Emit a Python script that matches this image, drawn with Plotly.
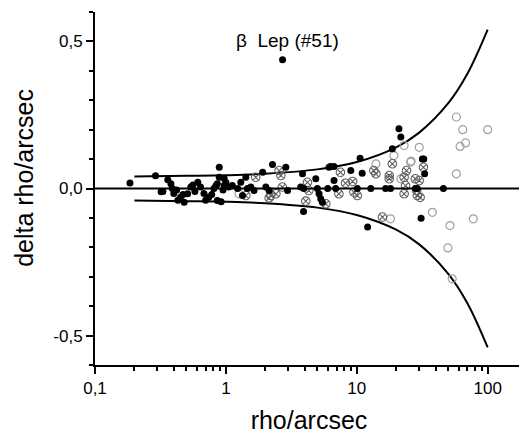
import math
import plotly.graph_objects as go

# filled (black) points
filled_rho = [0.185, 0.29, 0.32, 0.33, 0.36, 0.38, 0.39, 0.40, 0.42, 0.43, 0.45, 0.47, 0.48, 0.51, 0.54, 0.56,
              0.58, 0.61, 0.64, 0.68, 0.70, 0.74, 0.78, 0.81, 0.84, 0.86, 0.89, 0.89, 0.86, 0.92, 0.95,
              0.97, 1.0, 1.05, 0.97, 1.12, 1.23, 1.30, 1.34, 1.42, 1.46, 1.55, 1.64, 1.91, 2.02, 2.14,
              2.27, 2.87, 2.96, 3.85, 3.73, 3.94, 4.86, 5.0, 5.15, 5.3, 5.46, 3.92, 6.14, 6.3, 6.7,
              6.7, 6.9, 6.0, 9.0, 10.6, 11.0, 10.1, 12.8, 16.6, 18.1, 18.7, 21.0, 21.7, 12.1, 29,
              28, 31.7, 32.5, 33, 45.9, 31]
filled_delta = [0.019, 0.043, -0.011, -0.01, 0.03, 0.016, 0.0, -0.017, -0.005, -0.04, -0.03, -0.02, -0.047,
                -0.018, 0.005, 0.012, -0.01, 0.021, 0.005, -0.017, -0.04, -0.03, -0.02, 0.0, 0.01, 0.016,
                0.072, 0.038, -0.041, -0.045, -0.005, 0.01, 0.02, 0.005, 0.034, 0.01, 0.0, 0.021, -0.024,
                0.038, 0.0, 0.005, -0.007, 0.055, 0.005, -0.007, 0.082, 0.072, -0.007, 0.05, 0.005, 0.0,
                0.033, 0.0, -0.018, -0.035, -0.047, -0.078, 0.072, 0.075, 0.075, 0.027, 0.0, 0.0, 0.061,
                0.103, 0.052, 0.0, 0.0, 0.0, 0.0, 0.135, 0.203, 0.175, -0.131, 0.0, 0.0, 0.10, 0.10,
                0.05, 0.0, -0.101]

# open (grey) circles
open_rho = [1.26, 23.0, 25.8, 21.7, 14.0, 19.2, 30, 26, 57.7, 64.5, 100, 67.8, 61.6, 57.7, 37.8, 77.7,
            51.5, 49.7, 53.6, 18.1]
open_delta = [-0.018, 0.146, 0.09, 0.033, 0.084, 0.112, 0.14, 0.093, 0.243, 0.2, 0.2, 0.155, 0.143, 0.05,
              -0.081, -0.103, -0.126, -0.202, -0.307, -0.103]

# crossed circles
cross_rho = [1.69, 1.42, 2.2, 2.14, 2.41, 2.55, 2.63, 2.7, 4.2, 4.3, 4.08, 5.8, 7.5, 8.2, 9.3, 13.5, 14.0,
             18.7, 17.7, 17.7, 24, 7.3, 9.5, 10.1, 23.6, 23, 29, 30, 15.7, 32.3, 28, 23, 30.5, 28.7]
cross_delta = [0.038, -0.024, -0.024, -0.032, -0.018, 0.061, 0.044, 0.005, 0.021, -0.007, -0.043, -0.052,
               0.055, 0.018, 0.024, 0.061, 0.05, 0.084, 0.044, 0.033, 0.061, -0.018, -0.012, -0.024, 0.01,
               -0.018, -0.024, 0.027, -0.097, 0.072, 0.033, 0.038, -0.03, -0.007]

# beta Lep outlier
beta_rho = [2.71]
beta_delta = [0.438]
beta_label = "β  Lep (#51)"

# envelope curve
env_rho = [0.2, 0.5, 1, 2, 5, 10, 20, 30, 50, 70, 100]
env_upper = [0.041, 0.043, 0.045, 0.05, 0.065, 0.09, 0.14, 0.19, 0.29, 0.39, 0.54]
env_lower = [-v for v in env_upper]

x_tickvals = [0.1, 1, 10, 100]
x_ticktext = ["0,1", "1", "10", "100"]
y_tickvals = [-0.5, 0.0, 0.5]
y_ticktext = ["-0,5", "0,0", "0,5"]
x_title = "rho/arcsec"
y_title = "delta rho/arcsec"

FONT = "Liberation Sans, Arial, sans-serif"

fig = go.Figure()
for ys in (env_upper, env_lower):
    fig.add_trace(go.Scatter(x=env_rho, y=ys, mode="lines", line=dict(color="black", width=2, shape="spline"),
                             hoverinfo="skip", showlegend=False))
fig.add_trace(go.Scatter(x=open_rho, y=open_delta, mode="markers",
                         marker=dict(symbol="circle-open", size=8, color="#a0a0a0", line=dict(width=1.2)),
                         showlegend=False))
fig.add_trace(go.Scatter(x=cross_rho, y=cross_delta, mode="markers",
                         marker=dict(symbol="circle-x-open", size=8.5, color="#606060", line=dict(width=1.1)),
                         showlegend=False))
fig.add_trace(go.Scatter(x=filled_rho + beta_rho, y=filled_delta + beta_delta, mode="markers",
                         marker=dict(symbol="circle", size=7, color="black"), showlegend=False))

fig.add_shape(type="line", xref="paper", x0=0, x1=1, yref="y", y0=0, y1=0,
              line=dict(color="black", width=2))

fig.add_annotation(x=math.log10(beta_rho[0]), y=beta_delta[0], xref="x", yref="y", text=beta_label,
                   showarrow=False, xshift=5, yshift=19, font=dict(family=FONT, size=19, color="black"))

fig.add_annotation(x=-0.166, y=0.53, xref="paper", yref="paper", text=y_title, textangle=-90,
                   showarrow=False, xanchor="center", yanchor="middle",
                   font=dict(family=FONT, size=25, color="black"))

minor_x = [v * m for v in (0.1, 1, 10, 100) for m in range(2, 10) if v * m < 185]

fig.update_xaxes(type="log", range=[-1, 2.27], tickmode="array", tickvals=x_tickvals, ticktext=x_ticktext,
                 showline=True, linecolor="black", linewidth=2, ticks="outside", ticklen=7, tickwidth=2,
                 tickcolor="black", showgrid=False, zeroline=False, automargin=False,
                 tickfont=dict(family=FONT, size=17, color="black"),
                 minor=dict(tickmode="array", tickvals=minor_x, ticks="outside", ticklen=4, tickwidth=1.5,
                            tickcolor="black", showgrid=False),
                 title=dict(text=x_title, font=dict(family=FONT, size=25, color="black"), standoff=24))
fig.update_yaxes(range=[-0.6, 0.6], tickmode="array", tickvals=y_tickvals, ticktext=y_ticktext,
                 showline=True, linecolor="black", linewidth=2, ticks="outside", ticklen=7, tickwidth=2,
                 tickcolor="black", showgrid=False, zeroline=False, automargin=False,
                 tickfont=dict(family=FONT, size=17, color="black"),
                 minor=dict(dtick=0.1, tick0=0, ticks="outside", ticklen=4, tickwidth=1.5,
                            tickcolor="black", showgrid=False))

# the page body adds an 8px offset; size the figure so the plot area lands where the reference has it
fig.update_layout(width=519, height=426, margin=dict(l=87, r=4, t=4, b=69),
                  plot_bgcolor="white", paper_bgcolor="white", showlegend=False)

fig.write_html("out.html")
